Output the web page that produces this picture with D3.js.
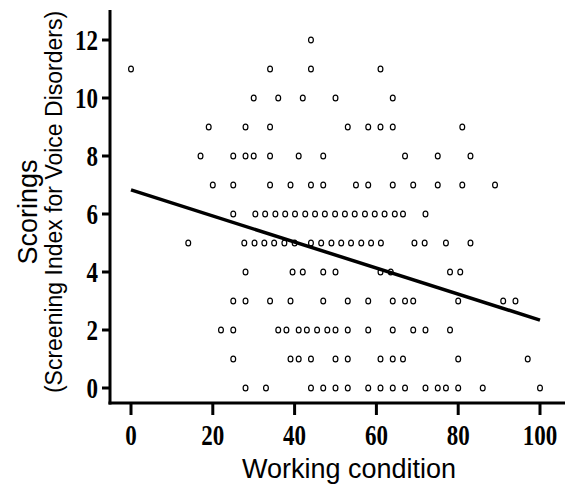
<!DOCTYPE html>
<html>
<head>
<meta charset="utf-8">
<script src="https://cdn.jsdelivr.net/npm/d3@7"></script>
<style>
  body { margin: 0; background: #fff; }
  svg { display: block; }
</style>
</head>
<body>
<svg id="chart" width="579" height="490"></svg>
<script>
// working condition values for each SIVD score level
const score0 = [28, 33, 44, 47, 50, 53, 58, 61, 64, 67, 72, 75, 77, 80, 86, 100];
const score1 = [25, 39, 41, 44, 50, 53, 61, 64, 66.5, 80, 97];
const score2 = [22, 25, 36, 38, 41, 43, 45.5, 48, 50, 53, 58, 64, 69, 72, 78];
const score3 = [25, 28, 34, 39, 47, 53, 58, 64, 67, 69, 80, 91, 94];
const score4 = [28, 39.5, 42, 47, 50, 61, 63.5, 78, 80.5];
const score5 = [14, 27.7, 30.2, 32.6, 35, 37.5, 40, 44, 46.5, 49, 51.4, 53.8, 56.3, 58.7, 61.1, 69.3, 71.8, 77, 83];
const score6 = [25, 30.4, 32.8, 35.3, 37.7, 40.1, 42.6, 45, 47.4, 49.9, 52.3, 54.7, 57.2, 59.6, 62, 64.5, 66.5, 72];
const score7 = [20, 25, 34, 39, 44, 47, 55, 58, 64, 69, 75, 81, 89];
const score8 = [17, 25, 28, 30, 34, 41, 47, 67, 75, 83];
const score9 = [19, 28, 34, 53, 58, 61, 64, 81];
const score10 = [30, 36, 42, 50, 64];
const score11 = [0, 34, 44, 61];
const score12 = [44];

const scoreRows = [score0, score1, score2, score3, score4, score5, score6,
  score7, score8, score9, score10, score11, score12];

// fitted regression line end points
const fitX = [0, 100];
const fitY = [6.83, 2.34];

const xTicks = [0, 20, 40, 60, 80, 100];
const yTicks = [0, 2, 4, 6, 8, 10, 12];

const points = [];
scoreRows.forEach((row, score) => {
  row.forEach(v => points.push({ x: v, y: score }));
});

const svg = d3.select("#chart");

const x = d3.scaleLinear().domain([0, 100]).range([131, 540]);
const y = d3.scaleLinear().domain([0, 12]).range([388, 40]);

const axisLeftX = 110;
const axisBottomY = 403;
const tickFont = "'Liberation Serif', 'Times New Roman', serif";
const labelFont = "'Liberation Sans', Arial, sans-serif";

// axis lines
svg.append("line")
  .attr("x1", axisLeftX).attr("x2", axisLeftX)
  .attr("y1", 10).attr("y2", axisBottomY + 1.5)
  .attr("stroke", "#000").attr("stroke-width", 3);

svg.append("line")
  .attr("x1", axisLeftX - 1.5).attr("x2", 565)
  .attr("y1", axisBottomY).attr("y2", axisBottomY)
  .attr("stroke", "#000").attr("stroke-width", 3);

// y ticks + labels (tick digits look a bit stretched vertically in the original)
const yg = svg.append("g");
yg.selectAll("line")
  .data(yTicks)
  .enter().append("line")
  .attr("x1", axisLeftX - 8).attr("x2", axisLeftX)
  .attr("y1", d => y(d)).attr("y2", d => y(d))
  .attr("stroke", "#000").attr("stroke-width", 3);

yg.selectAll("text")
  .data(yTicks)
  .enter().append("text")
  .attr("transform", d => `translate(${axisLeftX - 12},${y(d) + 10}) scale(1,1.25)`)
  .attr("text-anchor", "end")
  .style("font-family", tickFont)
  .style("font-size", "23px")
  .style("font-weight", "bold")
  .text(d => d);

// x ticks + labels
const xg = svg.append("g");
xg.selectAll("line")
  .data(xTicks)
  .enter().append("line")
  .attr("x1", d => x(d)).attr("x2", d => x(d))
  .attr("y1", axisBottomY).attr("y2", axisBottomY + 12)
  .attr("stroke", "#000").attr("stroke-width", 3);

xg.selectAll("text")
  .data(xTicks)
  .enter().append("text")
  .attr("transform", d => `translate(${x(d)},445) scale(1,1.25)`)
  .attr("text-anchor", "middle")
  .style("font-family", tickFont)
  .style("font-size", "23px")
  .style("font-weight", "bold")
  .text(d => d);

// scatter points
svg.append("g")
  .selectAll("ellipse")
  .data(points)
  .enter().append("ellipse")
  .attr("cx", d => x(d.x))
  .attr("cy", d => y(d.y))
  .attr("rx", 2.4)
  .attr("ry", 2.9)
  .attr("fill", "#fff")
  .attr("stroke", "#000")
  .attr("stroke-width", 1.2);

// regression line
const fitData = fitX.map((v, i) => ({ x: v, y: fitY[i] }));
svg.append("path")
  .datum(fitData)
  .attr("d", d3.line().x(d => x(d.x)).y(d => y(d.y)))
  .attr("fill", "none")
  .attr("stroke", "#000")
  .attr("stroke-width", 3.5);

// axis titles
svg.append("text")
  .attr("x", 349)
  .attr("y", 478)
  .attr("text-anchor", "middle")
  .style("font-family", labelFont)
  .style("font-size", "27px")
  .text("Working condition");

svg.append("text")
  .attr("transform", "translate(37,212) rotate(-90)")
  .attr("text-anchor", "middle")
  .style("font-family", labelFont)
  .style("font-size", "27px")
  .text("Scorings");

svg.append("text")
  .attr("transform", "translate(62,202) rotate(-90)")
  .attr("text-anchor", "middle")
  .style("font-family", labelFont)
  .style("font-size", "23px")
  .text("(Screening Index for Voice Disorders)");
</script>
</body>
</html>
